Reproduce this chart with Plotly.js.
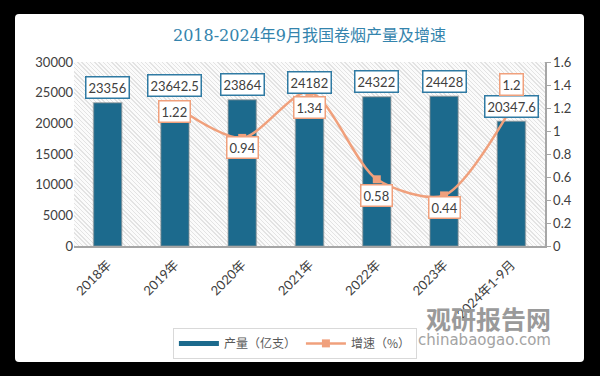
<!DOCTYPE html>
<html><head><meta charset="utf-8">
<script src="https://cdn.plot.ly/plotly-3.0.1.min.js"></script>
<style>
html,body{margin:0;padding:0;background:#000;width:600px;height:376px;overflow:hidden;}
#panel{position:absolute;left:15px;top:14px;width:569px;height:348px;background:#fff;border-radius:4px;}
#hatch{position:absolute;left:74px;top:62px;width:471px;height:184px;
 background:repeating-linear-gradient(45deg,#e3e3e3 0px,#e3e3e3 1px,#fbfbfb 1px,#fbfbfb 3px);}
#chart{position:absolute;left:0;top:0;width:600px;height:376px;}
</style></head>
<body>
<div id="panel"></div>
<div id="hatch"></div>
<div id="chart"></div>
<script>
const categories = ['2018年','2019年','2020年','2021年','2022年','2023年','2024年1-9月'];
const output = [23356, 23642.5, 23864, 24182, 24322, 24428, 20347.6];
const growth = [null, 1.22, 0.94, 1.34, 0.58, 0.44, 1.2];
const leftTicks = [0, 5000, 10000, 15000, 20000, 25000, 30000];
const rightTicks = [0, 0.2, 0.4, 0.6, 0.8, 1, 1.2, 1.4, 1.6];

const BLUE = '#1c6a8d', ORANGE = '#f0a07c';
const numFont = 'Lato, "Noto Sans CJK SC", sans-serif';
const growthShift = [0, -6, -10, -16, -16, -12, 24];

const traces = [
  {type:'bar', x:categories, y:output, name:'产量（亿支）', marker:{color:BLUE, line:{color:'rgba(150,150,150,0.5)', width:1.5}},
   width:0.42, showlegend:false, hoverinfo:'skip'},
  {type:'scatter', mode:'lines', x:[null], y:[null], name:'产量（亿支）', line:{color:BLUE, width:5}},
  {type:'scatter', mode:'lines+markers', x:categories, y:growth, yaxis:'y2', name:'增速（%）',
   line:{color:ORANGE, width:2.5, shape:'spline', smoothing:0.8}, marker:{symbol:'square', size:8, color:ORANGE},
   connectgaps:false, hoverinfo:'skip'}
];

const annotations = [];
categories.forEach((c,i)=>{
  annotations.push({x:c, y:output[i], xref:'x', yref:'y', text:String(output[i]), showarrow:false,
    yshift:15, font:{family:numFont, size:13, color:'#404040'}, bgcolor:'#fff',
    bordercolor:'#2f7aa3', borderwidth:1.5, borderpad:2});
  if (growth[i] !== null) {
    annotations.push({x:c, y:growth[i], xref:'x', yref:'y2', text:String(growth[i]), showarrow:false,
      yshift:growthShift[i], font:{family:numFont, size:13, color:'#404040'}, bgcolor:'#fff',
      bordercolor:ORANGE, borderwidth:1.5, borderpad:2});
  }
});
annotations.push({xref:'paper', yref:'paper', x:1.017, y:-0.39, xanchor:'right', yanchor:'middle',
  text:'<b>观研报告网</b>', showarrow:false, font:{family:'"Noto Sans CJK SC"', size:25, color:'#9a9a9a'}});
annotations.push({xref:'paper', yref:'paper', x:1.017, y:-0.51, xanchor:'right', yanchor:'middle',
  text:'chinabaogao.com', showarrow:false, font:{family:'"DejaVu Sans", sans-serif', size:15, color:'#a3a3a3'}});

const layout = {
  width:600, height:376,
  margin:{l:74, r:55, t:62, b:130},
  paper_bgcolor:'rgba(0,0,0,0)', plot_bgcolor:'rgba(0,0,0,0)',
  title:{text:'2018-2024年9月我国卷烟产量及增速', x:0.5, xref:'paper', y:0.907, yref:'container', xanchor:'center', yanchor:'middle',
    font:{family:'"DejaVu Serif", "Noto Sans CJK SC", serif', size:16, color:'#3484ad'}},
  xaxis:{type:'category', tickangle:-45, showline:true, linecolor:'#a6a6a6', linewidth:2, ticks:'', ticklabelstandoff:4,
    tickfont:{family:numFont, size:13, color:'#404040'}, showgrid:false, fixedrange:true},
  yaxis:{range:[0,30000], tickvals:leftTicks, ticktext:leftTicks.map(String), showgrid:false, zeroline:false, showline:false,
    tickfont:{family:numFont, size:13, color:'#404040'}, ticks:''},
  yaxis2:{overlaying:'y', side:'right', range:[0,1.6], tickvals:rightTicks, ticktext:rightTicks.map(String),
    showgrid:false, zeroline:false, showline:true, linecolor:'#a6a6a6', linewidth:1.5, ticks:'outside', ticklen:4, tickcolor:'#a6a6a6',
    tickfont:{family:numFont, size:13, color:'#404040'}},
  legend:{orientation:'h', x:0.21, y:-0.445, xanchor:'left', yanchor:'top', bordercolor:'#d9d9d9', borderwidth:1,
    font:{family:'"Noto Sans CJK SC", sans-serif', size:12, color:'#595959'}, bgcolor:'rgba(255,255,255,0.9)', itemwidth:40},
  annotations:annotations,
  showlegend:true
};
Plotly.newPlot('chart', traces, layout, {displayModeBar:false, staticPlot:true});
</script>
</body></html>
